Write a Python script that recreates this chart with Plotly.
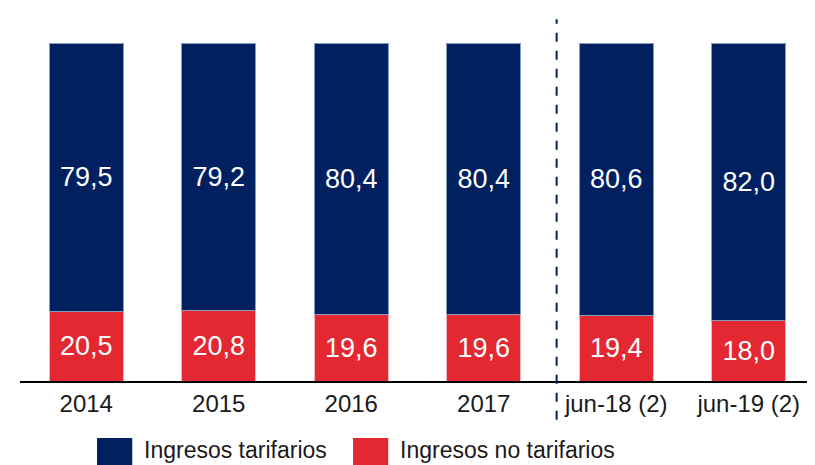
import plotly.graph_objects as go

# Datos
periodos = ["2014", "2015", "2016", "2017", "jun-18 (2)", "jun-19 (2)"]
ingresos_no_tarifarios = [20.5, 20.8, 19.6, 19.6, 19.4, 18.0]
ingresos_tarifarios = [79.5, 79.2, 80.4, 80.4, 80.6, 82.0]

NAVY = "#00205F"
RED = "#E32832"
FONT = "Liberation Sans, Arial, sans-serif"


def fmt(v):
    return f"{v:.1f}".replace(".", ",")


fig = go.Figure()
fig.add_trace(go.Bar(
    x=periodos, y=ingresos_no_tarifarios, name="Ingresos no tarifarios",
    marker=dict(color=RED, line=dict(color="#F2B8BC", width=1)),
    text=[fmt(v) for v in ingresos_no_tarifarios], textposition="inside",
    insidetextanchor="middle", textangle=0,
    textfont=dict(color="white", size=27, family=FONT),
    width=0.556, showlegend=False,
))
fig.add_trace(go.Bar(
    x=periodos, y=ingresos_tarifarios, name="Ingresos tarifarios",
    marker=dict(color=NAVY, line=dict(color="#8A9BC0", width=1)),
    text=[fmt(v) for v in ingresos_tarifarios], textposition="inside",
    insidetextanchor="middle", textangle=0,
    textfont=dict(color="white", size=27, family=FONT),
    width=0.556, showlegend=False,
))

# separador entre anual y semestral
fig.add_shape(type="line", xref="x", yref="paper", x0=3.55, x1=3.55,
              y0=-0.115, y1=1.07, line=dict(color=NAVY, width=2, dash="dash"))

# leyenda manual
legend = [("Ingresos tarifarios", NAVY, 0.0969), ("Ingresos no tarifarios", RED, 0.4189)]
for label, color, x0 in legend:
    fig.add_shape(type="rect", xref="paper", yref="paper", x0=x0, x1=x0 + 0.0443,
                  y0=-0.27, y1=-0.1686, fillcolor=color, line=dict(width=0))
    fig.add_annotation(xref="paper", yref="paper", x=x0 + 0.0566, y=-0.205,
                       text=label, showarrow=False, xanchor="left", yanchor="middle",
                       font=dict(size=23, color="#1a1a1a", family=FONT))

# el body del html añade 8px de margen: se compensa en tamaño y márgenes
fig.update_layout(
    barmode="stack",
    width=807, height=457,
    margin=dict(l=12, r=0, t=35, b=84),
    paper_bgcolor="white", plot_bgcolor="white",
    font=dict(family=FONT, color="#1a1a1a"),
    xaxis=dict(showline=True, linecolor="black", linewidth=1.5, ticks="",
               tickfont=dict(size=24, color="#1a1a1a"), showgrid=False),
    yaxis=dict(visible=False, range=[0, 100]),
)

fig.write_html("out.html")
